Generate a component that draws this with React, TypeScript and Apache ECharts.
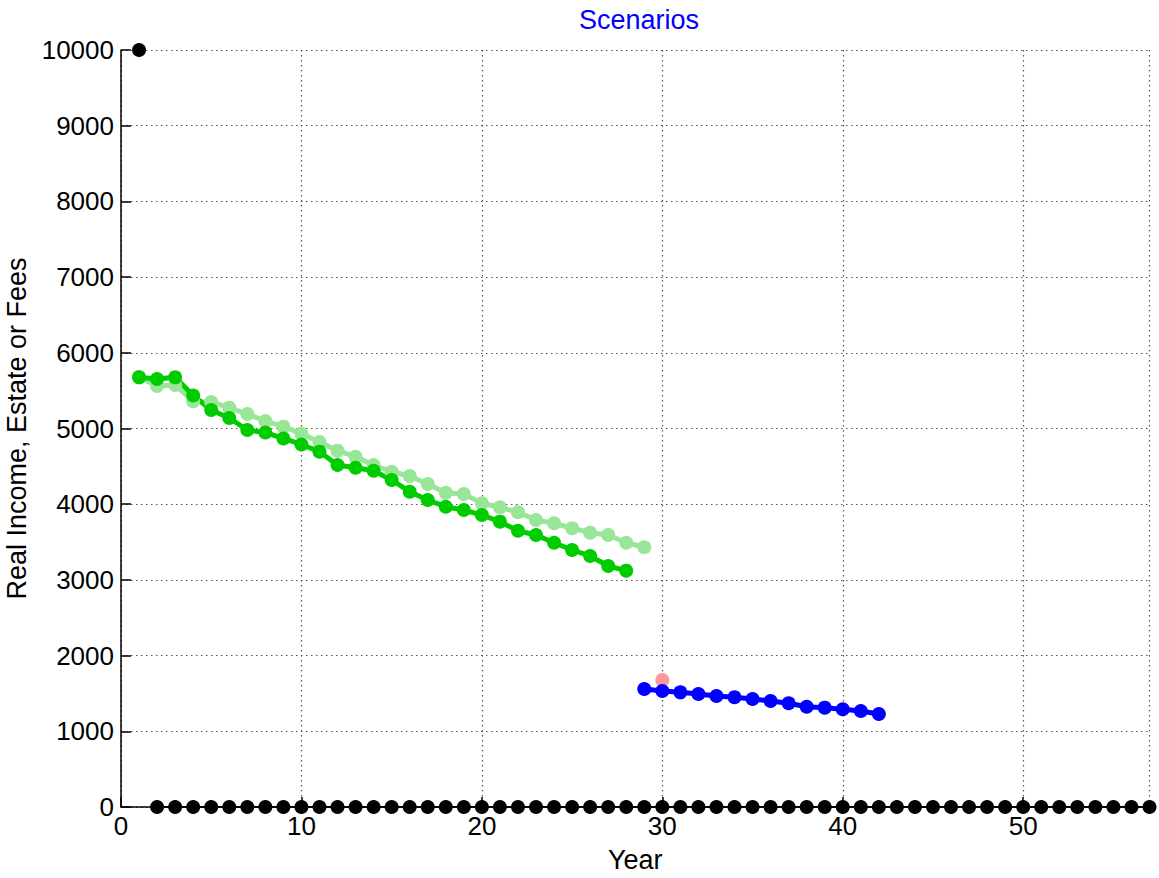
import React, { useEffect, useRef } from "react";
import * as echarts from "echarts";

// Real income scenarios (years 1..28 / 1..29)
const greenYears = Array.from({ length: 28 }, (_, i) => i + 1);
const greenValues = [
  5676, 5654, 5676, 5436, 5244, 5139, 4980, 4947, 4868, 4789,
  4694, 4518, 4482, 4442, 4320, 4165, 4055, 3967, 3923, 3857,
  3769, 3650, 3593, 3491, 3395, 3316, 3184, 3122,
];
const lightGreenYears = Array.from({ length: 29 }, (_, i) => i + 1);
const lightGreenValues = [
  5680, 5561, 5574, 5360, 5350, 5275, 5191, 5099, 5024, 4932,
  4822, 4707, 4627, 4518, 4429, 4373, 4267, 4152, 4135, 4012,
  3960, 3893, 3791, 3748, 3682, 3624, 3593, 3491, 3431,
];
// Estate / fees phase
const blueYears = [29, 30, 31, 32, 33, 34, 35, 36, 37, 38, 39, 40, 41, 42];
const blueValues = [1559, 1532, 1515, 1493, 1466, 1449, 1427, 1400, 1370, 1325, 1312, 1291, 1268, 1229];
const pinkYears = [30];
const pinkValues = [1678];
const startYears = [1];
const startValues = [10000];
const zeroYears = Array.from({ length: 56 }, (_, i) => i + 2);
const zeroValues = zeroYears.map(() => 0);

const xTicks = [0, 10, 20, 30, 40, 50];

const pairs = (xs: number[], ys: number[]) => xs.map((x, i) => [x, ys[i]]);

const FONT = "Liberation Sans, Arial, Helvetica, sans-serif";

export default function App() {
  const ref = useRef<HTMLDivElement>(null);

  useEffect(() => {
    if (!ref.current) return;
    const chart = echarts.init(ref.current, undefined, { renderer: "svg" });
    const lineSeries = (name: string, data: number[][], color: string, lw: number, size: number) => ({
      name,
      type: "line",
      data,
      clip: false,
      symbol: "circle",
      symbolSize: size,
      showSymbol: true,
      showAllSymbol: true,
      lineStyle: { color, width: lw },
      itemStyle: { color, borderWidth: 0 },
    });
    chart.setOption({
      animation: false,
      backgroundColor: "#ffffff",
      title: {
        text: "Scenarios",
        left: 574,
        top: 1,
        textStyle: { color: "#0000ff", fontFamily: FONT, fontSize: 27, fontWeight: "normal" },
      },
      grid: {
        left: 121,
        right: 9.5,
        top: 50,
        bottom: 71,
        containLabel: false,
        outerBoundsMode: "none",
      },
      xAxis: {
        type: "value",
        min: 0,
        max: 57,
        interval: 10,
        name: "Year",
        nameLocation: "middle",
        nameGap: 39,
        nameTextStyle: { color: "#000", fontFamily: FONT, fontSize: 27 },
        axisLine: { show: true, onZero: false, lineStyle: { color: "#000", width: 1.5 } },
        axisTick: { show: true, inside: true, length: 10, lineStyle: { color: "#000", width: 1.5 } },
        axisLabel: {
          color: "#000",
          fontFamily: FONT,
          fontSize: 26,
          margin: 6,
          showMaxLabel: false,
          formatter: (v: number) => (xTicks.includes(v) ? String(v) : ""),
        },
        splitLine: { show: true, lineStyle: { color: "#555", type: [1.5, 3.5], width: 1.2 } },
      },
      yAxis: {
        type: "value",
        min: 0,
        max: 10000,
        interval: 1000,
        name: "Real Income, Estate or Fees",
        nameLocation: "middle",
        nameGap: 84,
        nameTextStyle: { color: "#000", fontFamily: FONT, fontSize: 27 },
        axisLine: { show: true, lineStyle: { color: "#000", width: 1.5 } },
        axisTick: { show: true, inside: true, length: 10, lineStyle: { color: "#000", width: 1.5 } },
        axisLabel: {
          color: "#000",
          fontFamily: FONT,
          fontSize: 26,
          margin: 7,
          formatter: (v: number) => String(v),
        },
        splitLine: { show: true, lineStyle: { color: "#555", type: [1.5, 3.5], width: 1.2 } },
      },
      series: [
        lineSeries("zero", pairs(zeroYears, zeroValues), "#000000", 2, 14),
        lineSeries("start", pairs(startYears, startValues), "#000000", 2, 14),
        lineSeries("light green", pairs(lightGreenYears, lightGreenValues), "#99e699", 5, 14),
        lineSeries("green", pairs(greenYears, greenValues), "#00cc00", 5, 14),
        lineSeries("pink", pairs(pinkYears, pinkValues), "#ff9999", 5, 14),
        lineSeries("blue", pairs(blueYears, blueValues), "#0000ff", 5, 14),
      ],
    });
    return () => chart.dispose();
  }, []);

  return (
    <div
      ref={ref}
      style={{ position: "fixed", left: 0, top: 0, width: 1159, height: 878, background: "#fff" }}
    />
  );
}
